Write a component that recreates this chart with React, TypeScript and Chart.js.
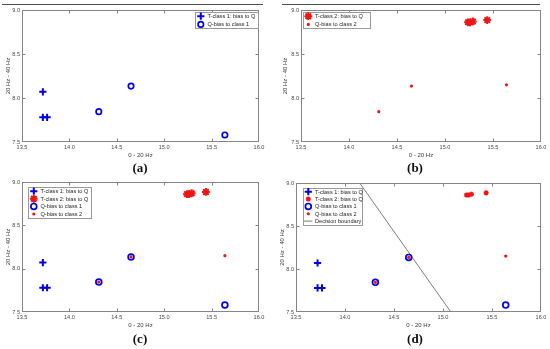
import React, { useEffect, useRef } from 'react';
import { Chart, registerables } from 'chart.js';
import { drawPoint } from 'chart.js/helpers';

Chart.register(...registerables);

// ---- data ----
const xTicks = [13.5, 14, 14.5, 15, 15.5, 16];
const yTicks = [7.5, 8, 8.5, 9];
const t1X = [13.72, 13.72, 13.765];
const t1Y = [8.07, 7.78, 7.78];
const t2X = [15.24, 15.26, 15.29, 15.44];
const t2Y = [8.86, 8.86, 8.87, 8.885];
const q1X = [14.31, 14.65, 15.64];
const q1Y = [7.845, 8.135, 7.58];
const q2X = [14.31, 14.65, 15.64];
const q2Y = [7.845, 8.135, 8.15];
const boundaryX = [14.15, 15.08];
const boundaryY = [9, 7.5];
const seriesLabels = ['T-class 1: bias to Q', 'T-class 2: bias to Q', 'Q-bias to class 1', 'Q-bias to class 2', 'Decision boundary'];
const xTitle = '0 - 20 Hz';
const yTitle = '20 Hz - 40 Hz';
const captions = ['(a)', '(b)', '(c)', '(d)'];

const BLUE = 'rgb(0,0,235)';
const RED = 'rgb(240,20,20)';
const AXIS = '#858585';
const FONT = "'Liberation Sans', Arial, sans-serif";

const pts = (xs: number[], ys: number[]) => xs.map((x, i) => ({ x, y: ys[i] }));

function makeDatasets(kind: string) {
  const big = kind === 'c' || kind === 'd';
  const t1 = { label: seriesLabels[0], data: pts(t1X, t1Y), pointStyle: 'cross', pointRadius: 3.6, borderWidth: 2, borderColor: BLUE, backgroundColor: BLUE, order: 2 };
  const t2star = { label: seriesLabels[1], data: pts(t2X, t2Y), pointStyle: 'star', pointRadius: 3.9, borderWidth: 2, borderColor: RED, backgroundColor: RED, order: 2 };
  const t2dot = { label: seriesLabels[1], data: pts(t2X, t2Y), pointStyle: 'circle', pointRadius: 2.3, borderWidth: 0.5, borderColor: RED, backgroundColor: RED, order: 2 };
  const q1 = { label: seriesLabels[2], data: pts(q1X, q1Y), pointStyle: 'circle', pointRadius: big ? 2.9 : 2.7, borderWidth: 1.7, borderColor: BLUE, backgroundColor: 'rgba(0,0,0,0)', order: 1 };
  const q2 = { label: seriesLabels[3], data: pts(q2X, q2Y), pointStyle: 'circle', pointRadius: 1.6, borderWidth: 0, borderColor: RED, backgroundColor: RED, order: 0 };
  const bd = { label: seriesLabels[4], data: pts(boundaryX, boundaryY), showLine: true, pointRadius: 0, borderWidth: 1, borderColor: '#7d7d7d', backgroundColor: '#7d7d7d', order: 3 };
  if (kind === 'a') return [t1, q1];
  if (kind === 'b') return [t2star, q2];
  if (kind === 'c') return [t1, t2star, q1, q2];
  return [t1, t2dot, q1, q2, bd];
}

type Panel = {
  kind: string; left: number; top: number; w: number; h: number;
  plot: { l: number; t: number; r: number; b: number };
  yTitleX: number; legend: { x: number; y: number; w: number; rowH: number };
  capX: number; capY: number; caption: string;
};

const panels: Panel[] = [
  { kind: 'a', left: 0, top: 0, w: 275, h: 162, plot: { l: 22, t: 10, r: 259, b: 142 }, yTitleX: 8, legend: { x: 195, y: 12, w: 63, rowH: 8.2 }, capX: 140, capY: 168, caption: captions[0] },
  { kind: 'b', left: 275, top: 0, w: 275, h: 162, plot: { l: 301, t: 10, r: 541, b: 142 }, yTitleX: 285, legend: { x: 302.5, y: 12, w: 67, rowH: 8.2 }, capX: 415, capY: 168, caption: captions[1] },
  { kind: 'c', left: 0, top: 175, w: 275, h: 157, plot: { l: 22, t: 182, r: 259, b: 312 }, yTitleX: 8, legend: { x: 28, y: 187, w: 63, rowH: 7.6 }, capX: 140, capY: 339, caption: captions[2] },
  { kind: 'd', left: 275, top: 175, w: 275, h: 157, plot: { l: 296, t: 183, r: 541, b: 312 }, yTitleX: 282, legend: { x: 302.5, y: 187.5, w: 59, rowH: 7.35 }, capX: 415, capY: 339, caption: captions[3] },
];

const framePlugin = {
  id: 'frame',
  beforeDatasetsDraw(chart: any) {
    const { ctx, chartArea, scales } = chart;
    const L = Math.round(chartArea.left) + 0.5;
    const T = Math.round(chartArea.top) + 0.5;
    const R = Math.round(chartArea.right) - 0.5;
    const B = Math.round(chartArea.bottom) - 0.5;
    ctx.save();
    ctx.strokeStyle = AXIS;
    ctx.lineWidth = 1;
    ctx.strokeRect(L, T, R - L, B - T);
    ctx.beginPath();
    for (const v of xTicks) {
      const px = Math.round(scales.x.getPixelForValue(v)) + 0.5;
      if (px <= L + 1 || px >= R - 1) continue;
      ctx.moveTo(px, B); ctx.lineTo(px, B - 3);
      ctx.moveTo(px, T); ctx.lineTo(px, T + 3);
    }
    for (const v of yTicks) {
      const py = Math.round(scales.y.getPixelForValue(v)) + 0.5;
      if (py <= T + 1 || py >= B - 1) continue;
      ctx.moveTo(L, py); ctx.lineTo(L + 3, py);
      ctx.moveTo(R, py); ctx.lineTo(R - 3, py);
    }
    ctx.stroke();
    ctx.restore();
  },
  afterDraw(chart: any, _args: any, opts: any) {
    const lg = opts && opts.box;
    if (!lg) return;
    const { ctx } = chart;
    const dss = chart.data.datasets;
    const n = dss.length;
    const first = 4.2;
    const bh = first + (n - 1) * lg.rowH + 3.6;
    ctx.save();
    ctx.fillStyle = '#ffffff';
    ctx.fillRect(lg.x, lg.y, lg.w, bh);
    ctx.strokeStyle = '#9a9a9a';
    ctx.lineWidth = 1;
    ctx.strokeRect(Math.round(lg.x) + 0.5, Math.round(lg.y) + 0.5, Math.round(lg.w), Math.round(bh));
    ctx.font = `5.6px ${FONT}`;
    ctx.textBaseline = 'middle';
    ctx.textAlign = 'left';
    dss.forEach((ds: any, i: number) => {
      const cy = lg.y + first + i * lg.rowH;
      const cx = lg.x + 5.8;
      if (ds.showLine) {
        ctx.strokeStyle = ds.borderColor;
        ctx.lineWidth = ds.borderWidth;
        ctx.beginPath();
        ctx.moveTo(lg.x + 1.5, cy); ctx.lineTo(lg.x + 10, cy);
        ctx.stroke();
      } else {
        ctx.strokeStyle = ds.borderColor;
        ctx.fillStyle = ds.backgroundColor;
        ctx.lineWidth = ds.borderWidth;
        drawPoint(ctx, { pointStyle: ds.pointStyle, radius: ds.pointRadius, borderWidth: ds.borderWidth, rotation: 0 } as any, cx, cy);
      }
      ctx.fillStyle = '#262626';
      ctx.fillText(ds.label, lg.x + 12.5, cy + 0.3);
    });
    ctx.restore();
  },
};

function buildConfig(p: Panel): any {
  const padTop = p.plot.t - p.top;
  const padRight = p.left + p.w - p.plot.r;
  const yWidth = p.plot.l - p.left;
  const xHeight = p.top + p.h - p.plot.b;
  const titleLH = 6 * 1.2;
  const xTitleOffset = 13.8;
  const xTitlePadBottom = xHeight - xTitleOffset - titleLH / 2;
  const yTitlePadTop = p.yTitleX - p.left - titleLH / 2;
  return {
    type: 'scatter',
    data: { datasets: makeDatasets(p.kind) },
    plugins: [framePlugin],
    options: {
      animation: false,
      responsive: false,
      devicePixelRatio: 1,
      layout: { padding: { top: padTop, right: padRight, left: 0, bottom: 0 } },
      plugins: {
        legend: { display: false },
        tooltip: { enabled: false },
        frame: { box: { x: p.legend.x - p.left, y: p.legend.y - p.top, w: p.legend.w, rowH: p.legend.rowH } },
      },
      scales: {
        x: {
          type: 'linear', min: 13.5, max: 16,
          afterBuildTicks: (s: any) => { s.ticks = xTicks.map((v) => ({ value: v })); },
          afterFit: (s: any) => { s.height = xHeight; },
          grid: { display: false, drawTicks: false },
          border: { display: false },
          ticks: { font: { family: FONT, size: 5.6 }, color: '#4a4a4a', padding: 2.2, maxRotation: 0, autoSkip: false },
          title: { display: true, text: xTitle, font: { family: FONT, size: 6 }, color: '#3a3a3a', padding: { top: 0, bottom: xTitlePadBottom } },
        },
        y: {
          type: 'linear', min: 7.5, max: 9,
          afterBuildTicks: (s: any) => { s.ticks = yTicks.map((v) => ({ value: v })); },
          afterFit: (s: any) => { s.width = yWidth; },
          grid: { display: false, drawTicks: false },
          border: { display: false },
          ticks: { font: { family: FONT, size: 5.6 }, color: '#4a4a4a', padding: 2, autoSkip: false },
          title: { display: true, text: yTitle, font: { family: FONT, size: 6 }, color: '#3a3a3a', padding: { top: yTitlePadTop, bottom: 0 } },
        },
      },
    },
  };
}

function PanelChart({ p }: { p: Panel }) {
  const ref = useRef<HTMLCanvasElement>(null);
  useEffect(() => {
    const chart = new Chart(ref.current as HTMLCanvasElement, buildConfig(p));
    return () => chart.destroy();
  }, [p]);
  return (
    <canvas
      ref={ref}
      width={p.w}
      height={p.h}
      style={{ position: 'absolute', left: p.left, top: p.top, width: p.w, height: p.h }}
    />
  );
}

export default function App() {
  return (
    <div style={{ position: 'fixed', left: 0, top: 0, width: 550, height: 349, background: '#fff', overflow: 'hidden' }}>
      <div style={{ position: 'absolute', left: 2, top: 4, width: 261, height: 1, background: '#505050' }} />
      <div style={{ position: 'absolute', left: 282, top: 4, width: 258, height: 1, background: '#505050' }} />
      {panels.map((p) => (
        <PanelChart key={p.kind} p={p} />
      ))}
      {panels.map((p) => (
        <div
          key={'cap' + p.kind}
          style={{
            position: 'absolute', left: p.capX - 30, width: 60, top: p.capY - 8, height: 16,
            lineHeight: '16px', textAlign: 'center', fontFamily: "'Liberation Serif', 'Times New Roman', serif",
            fontWeight: 'bold', fontSize: 13, color: '#111',
          }}
        >
          {p.caption}
        </div>
      ))}
    </div>
  );
}
